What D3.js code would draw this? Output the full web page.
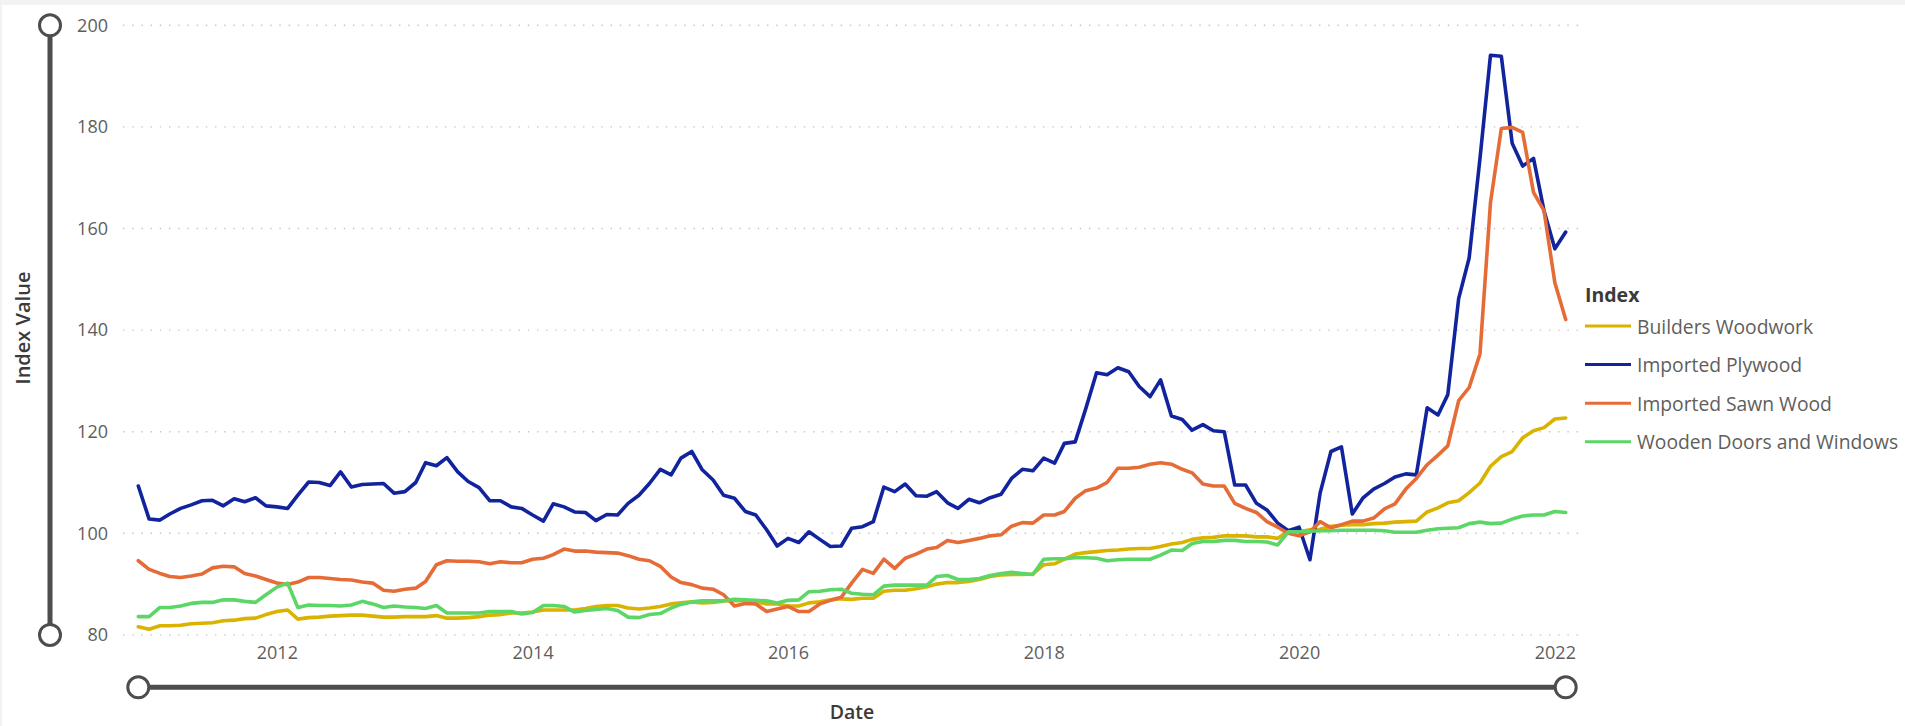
<!DOCTYPE html>
<html>
<head>
<meta charset="utf-8">
<script src="https://cdn.jsdelivr.net/npm/d3@7"></script>
<style>
  html, body { margin: 0; padding: 0; background: #ffffff; }
  svg { display: block; font-family: "Open Sans", "Noto Sans", sans-serif; }
</style>
</head>
<body>
<svg id="chart" width="1905" height="726"></svg>
<script>
// Monthly index values, December 2010 to February 2022
const firstMonth = new Date(2010, 11, 1);

const seriesNames = ["Builders Woodwork", "Imported Plywood", "Imported Sawn Wood", "Wooden Doors and Windows"];
const seriesColors = ["#D9B300", "#12239E", "#E66C37", "#5BD667"];

const buildersWoodwork = [
  81.6, 81.1, 81.8, 81.8, 81.9, 82.2, 82.3, 82.4, 82.8, 82.9, 83.2, 83.3, 84.0, 84.6, 84.9, 83.1, 83.4, 83.5, 83.7, 83.8, 83.9, 83.9,
  83.7, 83.5, 83.5, 83.6, 83.6, 83.6, 83.8, 83.3, 83.3, 83.4, 83.6, 83.9, 84.0, 84.3, 84.3, 84.5, 84.9, 84.9, 84.9, 84.9, 85.2, 85.6, 85.8,
  85.8, 85.3, 85.1, 85.3, 85.6, 86.1, 86.3, 86.5, 86.3, 86.4, 86.7, 86.8, 86.7, 86.5, 86.1, 86.1, 85.7, 85.7, 86.3, 86.5, 86.9, 87.1,
  87.0, 87.2, 87.2, 88.6, 88.8, 88.8, 89.1, 89.5, 90.0, 90.3, 90.3, 90.5, 90.9, 91.5, 91.8, 91.9, 91.9, 92.0, 93.8, 94.0, 94.9, 95.9, 96.2,
  96.4, 96.6, 96.7, 96.9, 97.0, 97.0, 97.4, 97.9, 98.2, 98.8, 99.1, 99.2, 99.5, 99.5, 99.5, 99.3, 99.3, 99.0, 100.5, 100.3, 100.7, 100.8,
  101.4, 101.6, 101.7, 101.7, 101.9, 102.0, 102.2, 102.3, 102.4, 104.2, 105.0, 106.0, 106.4, 108.0, 109.9, 113.2, 115.1, 116.1, 118.8, 120.2, 120.8, 122.5, 122.7
];

const importedPlywood = [
  109.3, 102.8, 102.6, 103.8, 104.9, 105.6, 106.4, 106.5, 105.4, 106.8, 106.2, 107.0, 105.4, 105.2, 104.9, 107.5, 110.1, 110.0, 109.4, 112.1, 109.1, 109.6,
  109.7, 109.8, 107.9, 108.2, 110.0, 113.9, 113.3, 114.9, 112.1, 110.2, 109.0, 106.4, 106.4, 105.2, 104.9, 103.6, 102.4, 105.8, 105.2, 104.2, 104.1, 102.5, 103.7,
  103.6, 105.9, 107.5, 109.8, 112.6, 111.5, 114.8, 116.1, 112.5, 110.5, 107.5, 106.9, 104.3, 103.6, 100.7, 97.5, 99.0, 98.2, 100.3, 98.8, 97.4, 97.5,
  101.0, 101.3, 102.3, 109.1, 108.2, 109.7, 107.4, 107.3, 108.2, 106.0, 104.9, 106.7, 106.0, 107.0, 107.7, 110.8, 112.6, 112.3, 114.8, 113.8, 117.7, 118.0, 124.5,
  131.6, 131.2, 132.6, 131.8, 128.9, 126.9, 130.2, 123.1, 122.4, 120.3, 121.4, 120.2, 120.0, 109.5, 109.5, 105.9, 104.6, 102.0, 100.5, 101.2, 94.8, 107.9,
  116.1, 117.0, 103.8, 106.9, 108.7, 109.8, 111.1, 111.7, 111.5, 124.7, 123.3, 127.3, 146.2, 154.2, 173.8, 194.1, 193.9, 176.8, 172.3, 173.8, 163.5, 156.0, 159.3
];

const importedSawnWood = [
  94.6, 92.9, 92.1, 91.5, 91.3, 91.6, 92.0, 93.2, 93.5, 93.4, 92.1, 91.6, 90.9, 90.2, 89.9, 90.4, 91.3, 91.3, 91.1, 90.9, 90.8, 90.4,
  90.2, 88.8, 88.6, 89.0, 89.2, 90.5, 93.8, 94.6, 94.5, 94.5, 94.4, 94.0, 94.4, 94.2, 94.2, 94.9, 95.1, 95.8, 96.9, 96.5, 96.5, 96.3, 96.2,
  96.1, 95.6, 94.9, 94.6, 93.5, 91.4, 90.3, 89.9, 89.2, 89.0, 87.9, 85.7, 86.2, 86.1, 84.6, 85.1, 85.6, 84.6, 84.6, 86.1, 86.8, 87.4,
  90.2, 92.9, 92.1, 94.9, 93.1, 95.1, 95.9, 96.9, 97.2, 98.6, 98.2, 98.6, 99.0, 99.5, 99.7, 101.4, 102.1, 102.0, 103.6, 103.6, 104.3, 106.9, 108.4,
  108.9, 110.0, 112.8, 112.8, 113.0, 113.6, 113.9, 113.6, 112.6, 111.9, 109.7, 109.3, 109.3, 105.9, 104.9, 104.1, 102.3, 101.2, 100.0, 99.5, 100.3, 102.3,
  101.1, 101.7, 102.4, 102.4, 103.0, 104.8, 105.8, 108.7, 110.8, 113.5, 115.4, 117.2, 126.1, 128.7, 135.3, 165.1, 179.7, 179.9, 178.9, 167.1, 163.5, 149.3, 142.1
];

const woodenDoorsWindows = [
  83.6, 83.6, 85.4, 85.4, 85.7, 86.2, 86.4, 86.4, 86.9, 86.9, 86.6, 86.4, 87.9, 89.4, 90.2, 85.4, 85.9, 85.8, 85.8, 85.7, 85.9, 86.6,
  86.1, 85.4, 85.7, 85.5, 85.4, 85.2, 85.8, 84.3, 84.3, 84.3, 84.3, 84.6, 84.6, 84.6, 84.1, 84.4, 85.8, 85.8, 85.6, 84.5, 84.8, 85.0, 85.2,
  84.8, 83.5, 83.4, 84.0, 84.2, 85.3, 86.0, 86.5, 86.7, 86.7, 86.7, 87.0, 86.9, 86.8, 86.7, 86.3, 86.8, 86.9, 88.5, 88.6, 88.9, 89.0,
  88.2, 88.0, 87.9, 89.6, 89.8, 89.8, 89.8, 89.8, 91.5, 91.7, 90.9, 90.9, 91.1, 91.7, 92.1, 92.3, 92.1, 91.9, 94.9, 95.0, 95.0, 95.2, 95.2,
  95.1, 94.6, 94.8, 94.9, 94.9, 94.9, 95.7, 96.7, 96.6, 98.0, 98.4, 98.4, 98.6, 98.6, 98.4, 98.4, 98.3, 97.7, 100.3, 100.3, 100.4, 100.5,
  100.5, 100.6, 100.6, 100.6, 100.6, 100.5, 100.2, 100.2, 100.2, 100.6, 100.9, 101.0, 101.1, 101.9, 102.2, 101.9, 102.0, 102.8, 103.4, 103.6, 103.6, 104.3, 104.1
];

const yTickValues = [80, 100, 120, 140, 160, 180, 200];
const xTickYears = [2012, 2014, 2016, 2018, 2020, 2022];

const seriesValues = [buildersWoodwork, importedPlywood, importedSawnWood, woodenDoorsWindows];
const months = buildersWoodwork.map((_, i) => d3.timeMonth.offset(firstMonth, i));
const series = seriesNames.map((name, k) => ({
  name,
  color: seriesColors[k],
  points: seriesValues[k].map((v, i) => ({ date: months[i], value: v }))
}));

const svg = d3.select("#chart");
const W = 1905, H = 726;

// light frame around the visual
svg.append("rect").attr("x", 0).attr("y", 0).attr("width", W).attr("height", H).attr("fill", "#f3f2f1");
svg.append("rect").attr("x", 2).attr("y", 5).attr("width", W - 2).attr("height", H - 5).attr("fill", "#ffffff");

const x = d3.scaleTime()
  .domain([months[0], months[months.length - 1]])
  .range([138.3, 1565.7]);
const y = d3.scaleLinear().domain([80, 200]).range([634.9, 25.3]);

const textColor = "#605E5C";
const titleColor = "#3b3a39";

// dotted horizontal gridlines
svg.append("g").selectAll("line")
  .data(yTickValues)
  .join("line")
  .attr("x1", 123).attr("x2", 1580)
  .attr("y1", d => y(d)).attr("y2", d => y(d))
  .attr("stroke", "#c8c6c4")
  .attr("stroke-width", 1.4)
  .attr("stroke-dasharray", "1.4,7.8");

// y axis labels
const yAxis = svg.append("g")
  .attr("transform", "translate(123,0)")
  .call(d3.axisLeft(y).tickValues(yTickValues).tickSize(0).tickPadding(15));
yAxis.select(".domain").remove();
yAxis.selectAll("text")
  .attr("fill", textColor)
  .style("font-size", "18px")
  .style("font-family", "'Open Sans', sans-serif");

// x axis labels
const xAxis = svg.append("g")
  .attr("transform", `translate(0,${y(80)})`)
  .call(d3.axisBottom(x)
    .tickValues(xTickYears.map(yr => new Date(yr, 0, 1)))
    .tickFormat(d3.timeFormat("%Y"))
    .tickSize(0).tickPadding(11));
xAxis.select(".domain").remove();
xAxis.selectAll("text")
  .attr("fill", textColor)
  .style("font-size", "18px")
  .style("font-family", "'Open Sans', sans-serif");

// series lines
const line = d3.line()
  .x(d => x(d.date))
  .y(d => y(d.value));

svg.append("g")
  .selectAll("path")
  .data(series)
  .join("path")
  .attr("d", d => line(d.points))
  .attr("fill", "none")
  .attr("stroke", d => d.color)
  .attr("stroke-width", 3.6)
  .attr("stroke-linejoin", "round")
  .attr("stroke-linecap", "round");

// axis titles
svg.append("text")
  .attr("transform", "translate(22,328) rotate(-90)")
  .attr("text-anchor", "middle")
  .attr("dominant-baseline", "central")
  .attr("fill", titleColor)
  .style("font-size", "20px")
  .style("font-weight", 600)
  .text("Index Value");

svg.append("text")
  .attr("x", 852).attr("y", 719)
  .attr("text-anchor", "middle")
  .attr("fill", titleColor)
  .style("font-size", "19.5px")
  .style("font-weight", 600)
  .text("Date");

// range sliders
const sliderColor = "#4d4d4d";
const vSlider = svg.append("g");
vSlider.append("line")
  .attr("x1", 50).attr("x2", 50)
  .attr("y1", y(200)).attr("y2", y(80))
  .attr("stroke", sliderColor).attr("stroke-width", 5);
vSlider.selectAll("circle")
  .data([200, 80])
  .join("circle")
  .attr("cx", 50).attr("cy", d => y(d)).attr("r", 10.5)
  .attr("fill", "#ffffff").attr("stroke", sliderColor).attr("stroke-width", 3);

const hSlider = svg.append("g");
const sliderY = 687.3;
hSlider.append("line")
  .attr("x1", x(months[0])).attr("x2", x(months[months.length - 1]))
  .attr("y1", sliderY).attr("y2", sliderY)
  .attr("stroke", sliderColor).attr("stroke-width", 5);
hSlider.selectAll("circle")
  .data([months[0], months[months.length - 1]])
  .join("circle")
  .attr("cx", d => x(d)).attr("cy", sliderY).attr("r", 10.5)
  .attr("fill", "#ffffff").attr("stroke", sliderColor).attr("stroke-width", 3);

// legend
const legend = svg.append("g").attr("transform", "translate(1585,0)");
legend.append("text")
  .attr("x", 0).attr("y", 294)
  .attr("dominant-baseline", "central")
  .attr("fill", titleColor)
  .style("font-size", "19.5px")
  .style("font-weight", 700)
  .text("Index");

const items = legend.selectAll("g.item")
  .data(series)
  .join("g")
  .attr("class", "item")
  .attr("transform", (d, i) => `translate(0,${326 + i * 38.6})`);
items.append("line")
  .attr("x1", 0).attr("x2", 46)
  .attr("y1", 0).attr("y2", 0)
  .attr("stroke", d => d.color)
  .attr("stroke-width", 3);
items.append("text")
  .attr("x", 52).attr("y", 0)
  .attr("dominant-baseline", "central")
  .attr("fill", textColor)
  .style("font-size", "19.3px")
  .text(d => d.name);
</script>
</body>
</html>
